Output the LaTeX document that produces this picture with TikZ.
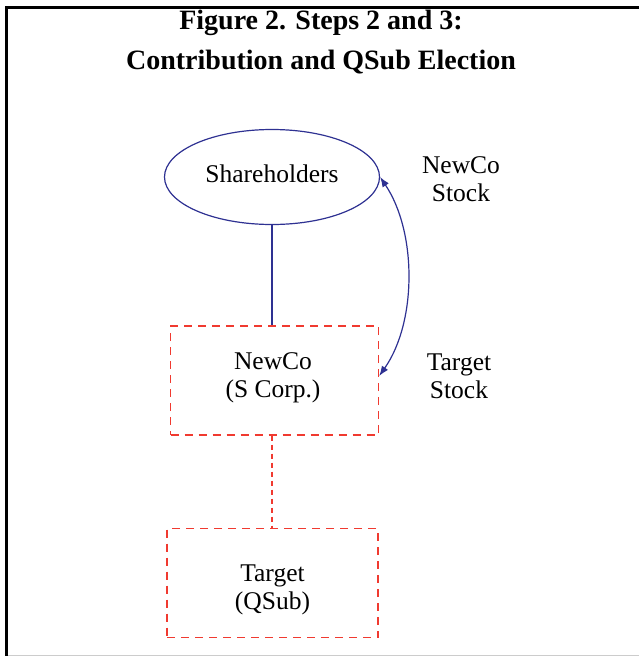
\documentclass[tikz,border=0pt]{standalone}
\usepackage{fontspec}
\setmainfont{Liberation Serif}
\usetikzlibrary{arrows.meta,shapes.geometric}
\definecolor{linkblue}{RGB}{46,49,146}
\definecolor{boxred}{RGB}{240,58,48}
\tikzset{
  bodytext/.style={font=\fontsize{25.5}{28}\selectfont},
  entity/.style={draw=boxred, line width=1.4pt, dash pattern=on 8pt off 6pt,
    minimum width=208pt, minimum height=109pt, inner sep=0pt},
  owner/.style={draw=linkblue, line width=1.2pt, ellipse,
    minimum width=215pt, minimum height=95pt, inner sep=0pt},
  tag/.style={align=center, bodytext, inner sep=0pt},
  bluelink/.style={draw=linkblue, line width=1.2pt},
  redlink/.style={draw=boxred, line width=1.3pt, dash pattern=on 5pt off 4pt},
  swap/.style={bluelink, {Latex[length=10pt,width=7.5pt]}-{Latex[length=10pt,width=7.5pt]}}
}
\begin{document}
\begin{tikzpicture}[x=1pt,y=-1pt]
\useasboundingbox (0,0) rectangle (639,656);
% outer frame, cut off on the right and at the bottom
\draw[line width=3pt] (6.5,660) -- (6.5,7.5) -- (650,7.5);
\draw[gray!40, line width=1pt] (8,655) -- (639,655);
% title
\node[align=center, font=\fontsize{28}{40}\selectfont\bfseries] (title) at (321,42)
  {Figure 2. Steps 2 and 3:\\Contribution and QSub Election};
% entities and their names
\node[owner] (sh) at (272,177) {};
\node[tag] (shtext) at ([yshift=3.5pt]sh.center) {Shareholders};
\node[entity] (newco) at (274.5,380.5) {};
\node[tag] (newcotext) at ([xshift=-1.5pt,yshift=3pt]newco.center) {NewCo\\(S Corp.)};
\node[entity, minimum width=211pt] (target) at (272.5,583) {};
\node[tag] (targettext) at ([yshift=-7pt]target.center) {Target\\(QSub)};
% labels of the exchange
\node[tag] (lblnew) at (461,179) {NewCo\\Stock};
\node[tag] (lbltgt) at (459,376) {Target\\Stock};
% connectors
\coordinate (stockin) at ([yshift=4.5pt]newco.east);
\draw[bluelink] (sh.south) -- (sh.south |- newco.north);
\draw[redlink] (sh.south |- newco.south) -- (sh.south |- target.north);
\draw[swap] (stockin) .. controls (417,322) and (417,232) .. (sh.east);
\end{tikzpicture}
\end{document}
